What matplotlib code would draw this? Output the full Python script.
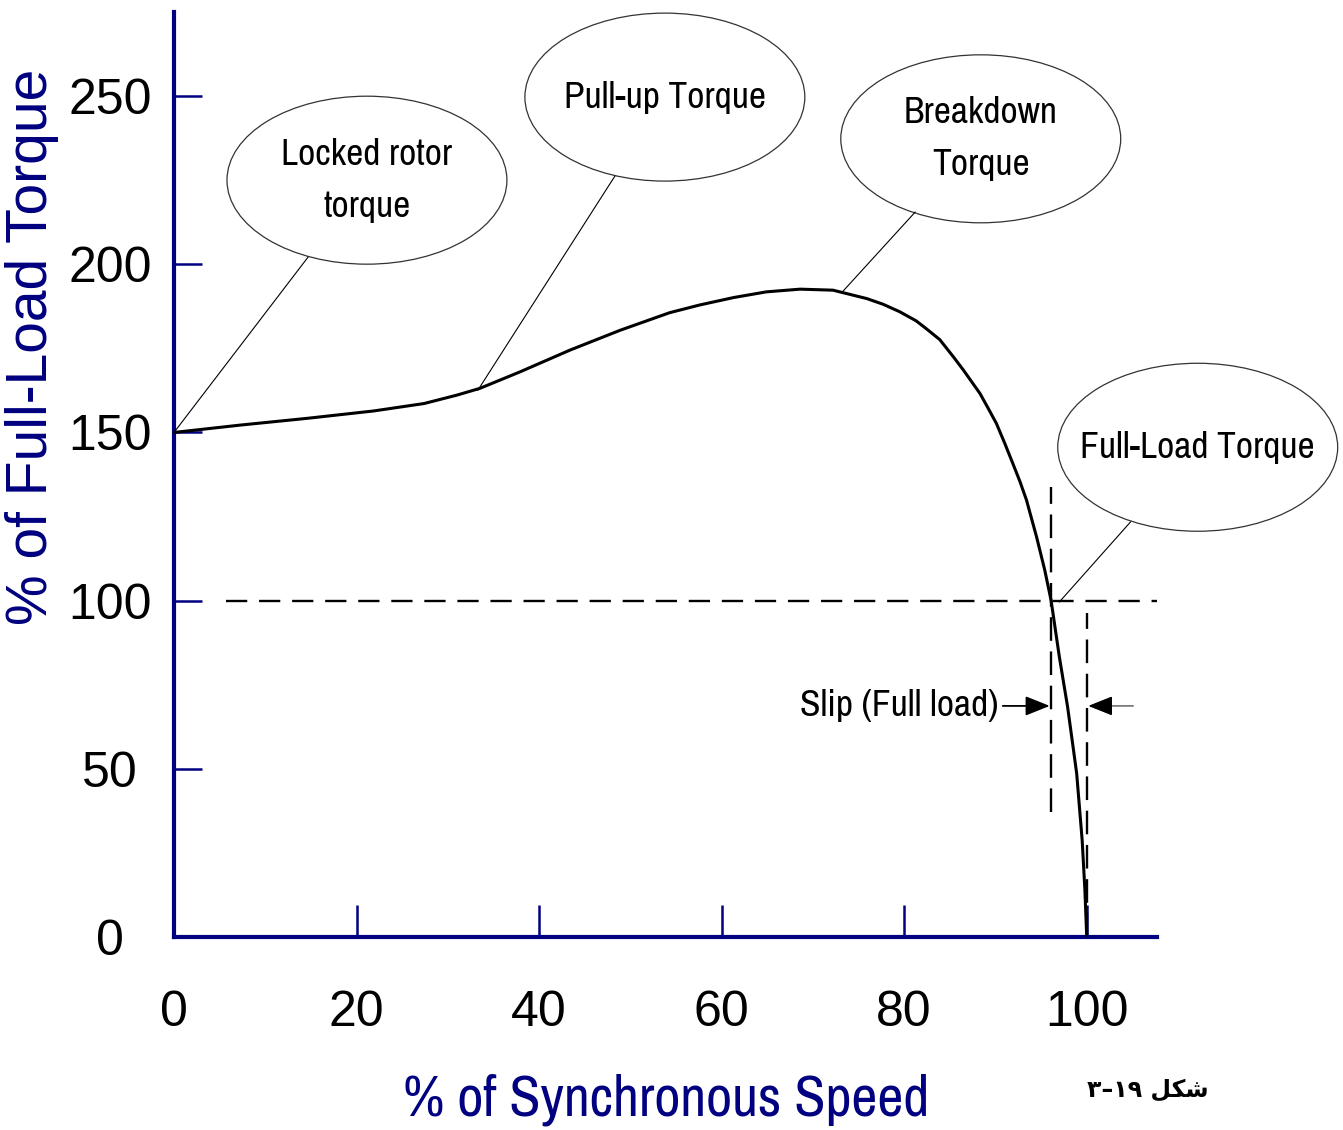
import matplotlib
matplotlib.use("Agg")
import matplotlib.pyplot as plt
from matplotlib.patches import Ellipse
from matplotlib import font_manager

# ---- data -------------------------------------------------------------
speed = [0, 7.3, 14.6, 21.9, 27.4, 31.0, 33.5, 37.9, 43.4, 48.9, 54.3, 57.6,
         61.3, 64.9, 68.6, 72.2, 75.9, 77.7, 79.5, 81.3, 82.4, 83.9, 85.5,
         86.5, 88.3, 89.2, 90.1, 91.0, 91.9, 92.7, 93.4, 94.5, 95.4, 96.1,
         97.0, 97.9, 98.4, 98.9, 99.2, 99.5, 99.8, 100]
torque = [150, 152.2, 154.2, 156.4, 158.6, 161.1, 163.1, 168.0, 174.5, 180.4,
          185.6, 187.9, 190.1, 191.8, 192.6, 192.3, 189.8, 188.1, 185.9, 183.2,
          180.9, 177.6, 172.1, 168.5, 161.6, 157.2, 152.7, 146.9, 140.8, 135.3,
          129.9, 119.0, 109.1, 100, 83.3, 68.5, 58.6, 48.6, 38.7, 28.8, 14, 0]

x_ticks = [0, 20, 40, 60, 80, 100]
y_ticks = [0, 50, 100, 150, 200, 250]

full_load_torque = 100
full_load_speed = 96.1
sync_speed = 100

callout_texts = ["Locked rotor\ntorque", "Pull-up Torque", "Breakdown\nTorque",
                 "Full-Load Torque"]
callout_centers = [(21.14, 225.0), (53.78, 249.7), (88.39, 237.3), (112.16, 145.6)]
callout_anchor = [(0, 150), (33.3, 162.6), (73.3, 192.0), (97.0, 99.6)]
callout_leader_end = [(14.68, 202.1), (48.3, 226.2), (81.2, 215.5), (104.8, 123.4)]

# ---- style ------------------------------------------------------------
names = {f.name for f in font_manager.fontManager.ttflist}
NARROW = next((n for n in ("Arial Narrow", "Liberation Sans Narrow", "Archivo Narrow",
                           "Roboto Condensed", "PT Sans Narrow") if n in names),
              "Liberation Sans")
REG = "Liberation Sans"
NAVY = "#000080"

fig = plt.figure(figsize=(13.43, 11.30), dpi=100)
ax = fig.add_axes([174 / 1343, 1 - 937 / 1130, 983 / 1343, 925 / 1130])
ax.set_xlim(0, 107.7)
ax.set_ylim(0, 275.0)

for s in ("top", "right"):
    ax.spines[s].set_visible(False)
for s in ("left", "bottom"):
    ax.spines[s].set_color(NAVY)
    ax.spines[s].set_linewidth(3.0)

ax.set_xticks(x_ticks)
ax.set_yticks(y_ticks)
ax.set_xticklabels([str(v) for v in x_ticks], family=REG, fontsize=36)
ax.set_yticklabels([str(v) for v in y_ticks], family=REG, fontsize=36, ha="center")
ax.tick_params(axis="x", direction="in", length=23, width=1.8, color=NAVY, pad=38)
ax.tick_params(axis="y", direction="in", length=20, width=1.8, color=NAVY, pad=46)

# torque-speed curve
ax.plot(speed, torque, color="black", lw=2.2, solid_capstyle="round",
        solid_joinstyle="round", zorder=4)

# full-load reference lines
ax.plot([5.7, 107.7], [full_load_torque, full_load_torque], color="black", lw=1.7,
        linestyle=(0, (9.0, 5.0)), zorder=3)
ax.plot([full_load_speed, full_load_speed], [37.2, 133.8], color="black", lw=1.7,
        linestyle=(0, (10, 4.5)), zorder=3)
ax.plot([sync_speed, sync_speed], [0, 96.2], color="black", lw=1.7,
        linestyle=(0, (10, 4.5)), zorder=3)

# slip dimension arrows
ax.annotate("", xy=(full_load_speed - 0.15, 68.7), xytext=(90.8, 68.7),
            arrowprops=dict(arrowstyle="-|>,head_length=0.75,head_width=0.3",
                            color="black", lw=1.3, mutation_scale=20,
                            shrinkA=0, shrinkB=0))
ax.annotate("", xy=(sync_speed + 0.2, 68.7), xytext=(105.1, 68.7),
            arrowprops=dict(arrowstyle="-|>,head_length=0.75,head_width=0.3",
                            color="#555555", lw=1.0, mutation_scale=20,
                            shrinkA=0, shrinkB=0), annotation_clip=False)
ax.annotate("", xy=(sync_speed + 0.2, 68.7), xytext=(101.9, 68.7),
            arrowprops=dict(arrowstyle="-|>,head_length=0.75,head_width=0.3",
                            color="black", lw=1.0, mutation_scale=20,
                            shrinkA=0, shrinkB=0), annotation_clip=False)
ax.text(90.3, 68.7, "Slip (Full load)", family=NARROW, fontsize=27,
        ha="right", va="center")

# callout bubbles
for txt, c, a, e in zip(callout_texts, callout_centers, callout_anchor,
                        callout_leader_end):
    ax.add_patch(Ellipse(c, 30.67, 49.94, facecolor="white", edgecolor="#333333",
                         lw=0.9, clip_on=False, zorder=5))
    ax.text(c[0], c[1], txt, family=NARROW, fontsize=27, ha="center",
            va="center", linespacing=1.7, zorder=6)
    ax.plot([a[0], e[0]], [a[1], e[1]], color="black", lw=0.8, zorder=5,
            clip_on=False)

# axis titles
fig.text(666 / 1343, 1 - 1100 / 1130, "% of Synchronous Speed", family=NARROW,
         fontsize=41, color=NAVY, ha="center", va="center")
fig.text(32 / 1343, 1 - 347 / 1130, "% of Full-Load Torque", family=REG,
         fontsize=41, color=NAVY, ha="center", va="center", rotation=90)

# figure caption (Persian, glyphs given in visual order)
fig.text(1148 / 1343, 1 - 1090 / 1130, "\u06f3\u2013\u06f1\u06f9 \ufede\ufb91\ufeb7",
         family=["DejaVu Sans", "Noto Sans"], fontweight="bold", fontsize=17,
         ha="center", va="center")

fig.savefig("out.png", dpi=100)
